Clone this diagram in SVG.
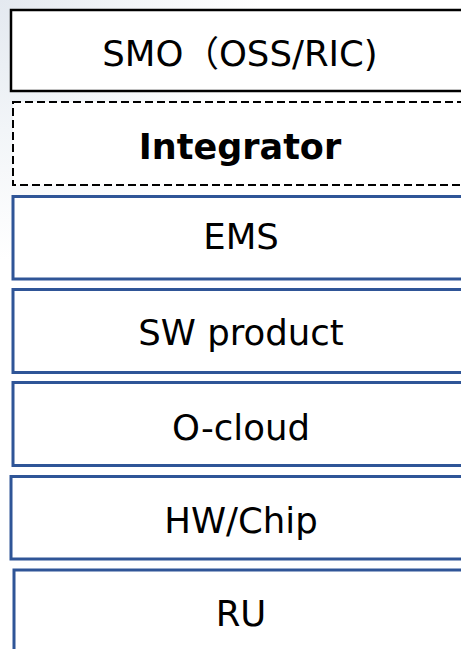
<svg xmlns="http://www.w3.org/2000/svg" width="461" height="649" viewBox="0 0 461 649">
<defs>
<radialGradient id="bg" cx="0" cy="0" r="260" gradientUnits="userSpaceOnUse">
<stop offset="0" stop-color="#e4e9f0"/>
<stop offset="0.5" stop-color="#f2f5f8"/>
<stop offset="1" stop-color="#ffffff"/>
</radialGradient>
<style>
.lbl{font-family:"DejaVu Sans","Noto Sans CJK JP",sans-serif;font-size:35.5px;fill:#000;text-anchor:middle}
.bold{font-weight:bold;font-size:35px}
.blue{fill:#fff;stroke:#2f5597;stroke-width:3}
.black{fill:#fff;stroke:#000;stroke-width:2.5}
.dash{fill:#fff;stroke:#000;stroke-width:2;stroke-dasharray:8 4}
</style>
</defs>
<rect width="461" height="649" fill="url(#bg)"/>
<g id="smo">
<rect class="black" x="11" y="10" width="470" height="81"/>
<text class="lbl" x="240" y="66">SMO（OSS/RIC)</text>
</g>
<g id="integrator">
<rect class="dash" x="13" y="102" width="470" height="83"/>
<text class="lbl bold" x="240" y="159">Integrator</text>
</g>
<g id="ems">
<rect class="blue" x="13" y="196.5" width="470" height="82.5"/>
<text class="lbl" x="241" y="249">EMS</text>
</g>
<g id="sw">
<rect class="blue" x="13" y="289.5" width="470" height="83"/>
<text class="lbl" x="241" y="345">SW product</text>
</g>
<g id="ocloud">
<rect class="blue" x="13" y="382.5" width="470" height="83"/>
<text class="lbl" x="241" y="440">O-cloud</text>
</g>
<g id="hw">
<rect class="blue" x="11" y="476.5" width="470" height="82.5"/>
<text class="lbl" x="241" y="533">HW/Chip</text>
</g>
<g id="ru">
<rect class="blue" x="14" y="570" width="470" height="100"/>
<text class="lbl" x="241" y="626">RU</text>
</g>
<g id="connectors"/>
</svg>
